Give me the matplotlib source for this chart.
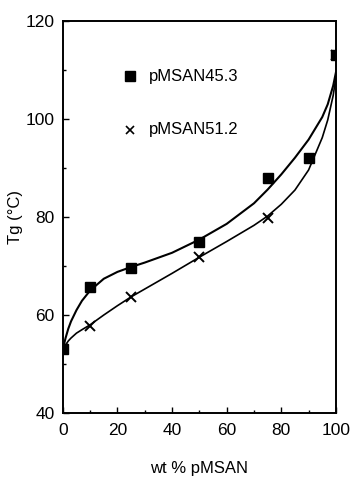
import matplotlib
matplotlib.use("Agg")
import matplotlib.pyplot as plt
from matplotlib.ticker import MultipleLocator

plt.rcParams['font.family'] = ['Liberation Sans', 'DejaVu Sans']

# measured data
x_a = [0, 10, 25, 50, 75, 90, 100]
tg_a = [53, 65.7, 69.6, 74.8, 88, 92, 113]
x_b = [0, 10, 25, 50, 75, 100]
tg_b = [53, 57.8, 63.7, 71.8, 79.8, 113]

# fitted curves
cx = [0, 1, 2, 3, 5, 7, 10, 15, 20, 25, 30, 40, 50, 60, 70, 75, 80, 85, 90, 95, 97, 99, 100]
cy_a = [53, 55.3, 57.2, 58.7, 61.0, 62.9, 65.0, 67.4, 68.8, 69.8, 70.7, 72.7, 75.4, 78.6, 82.8, 85.6, 88.7, 92.1, 95.8, 100.4, 103.0, 106.8, 109.5]
cy_b = [53, 53.9, 54.7, 55.3, 56.3, 57.0, 58.0, 60.0, 61.9, 63.7, 65.3, 68.5, 71.8, 75.0, 78.3, 80.2, 82.6, 85.5, 89.6, 96.2, 99.8, 104.8, 108.5]

labels = ['pMSAN45.3', 'pMSAN51.2']

fig = plt.figure(figsize=(3.51, 4.78), dpi=100)
ax = fig.add_axes([0.179, 0.136, 0.778, 0.820])

ax.plot(cx, cy_a, color='black', lw=1.5, zorder=2)
ax.plot(cx, cy_b, color='black', lw=1.2, zorder=2)
ax.plot(x_a, tg_a, 's', color='black', ms=6.5, zorder=3)
ax.plot(x_b, tg_b, 'x', color='black', ms=6.5, mew=1.4, zorder=3)

ax.set_xlim(0, 100)
ax.set_ylim(40, 120)
ax.xaxis.set_major_locator(MultipleLocator(20))
ax.xaxis.set_minor_locator(MultipleLocator(10))
ax.yaxis.set_major_locator(MultipleLocator(20))
ax.yaxis.set_minor_locator(MultipleLocator(10))
ax.tick_params(which='both', direction='in', top=False, right=False, width=1.0)
ax.tick_params(which='major', length=4, labelsize=12.5)
ax.tick_params(which='minor', length=2.5)
ax.tick_params(axis='x', pad=7)
ax.tick_params(axis='y', pad=6)
for s in ax.spines.values():
    s.set_linewidth(1.4)

ax.set_xlabel('wt % pMSAN', fontsize=12, labelpad=17)
ax.set_ylabel('Tg (°C)', fontsize=12, labelpad=2)

# legend drawn as in the original
ax.plot([24.5], [108.7], 's', color='black', ms=6.5)
ax.text(31.5, 108.7, labels[0], fontsize=12, va='center', ha='left')
ax.plot([24.5], [97.8], 'x', color='black', ms=5.5, mew=1.2)
ax.text(31.5, 97.8, labels[1], fontsize=12, va='center', ha='left')

fig.savefig('out.png', dpi=100)
